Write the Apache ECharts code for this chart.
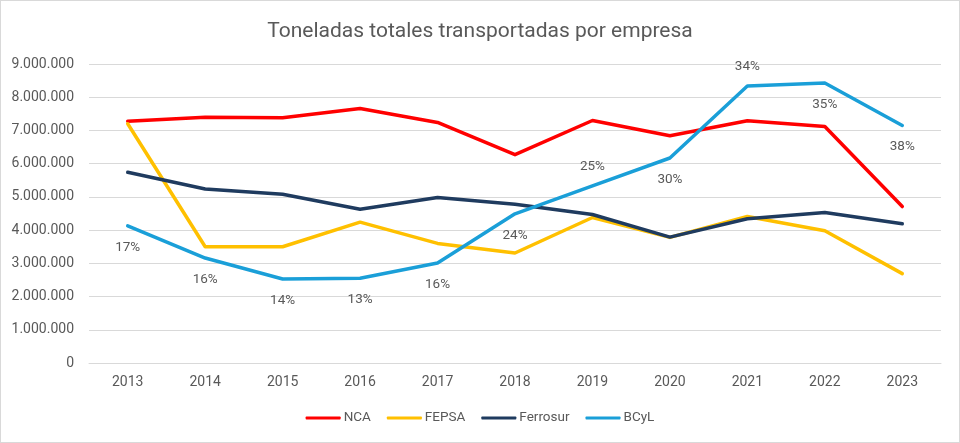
<!DOCTYPE html>
<html>
<head>
<meta charset="utf-8">
<script src="https://cdn.jsdelivr.net/npm/echarts@6/dist/echarts.min.js"></script>
<style>
html,body{margin:0;padding:0;background:#fff;}
#wrap{position:absolute;left:0;top:0;width:958px;height:441px;border:1px solid #d9d9d9;box-sizing:content-box;}
#chart{width:958px;height:441px;}
</style>
</head>
<body>
<div id="wrap"><div id="chart"></div></div>
<script>
const years = ['2013','2014','2015','2016','2017','2018','2019','2020','2021','2022','2023'];
const nca      = [7280000,7400000,7380000,7660000,7240000,6270000,7300000,6840000,7290000,7120000,4710000];
const fepsa    = [7200000,3500000,3500000,4240000,3600000,3310000,4380000,3780000,4410000,3980000,2690000];
const ferrosur = [5740000,5240000,5080000,4630000,4980000,4780000,4470000,3790000,4340000,4530000,4190000];
const bcyl     = [4130000,3160000,2530000,2550000,3010000,4490000,5330000,6170000,8340000,8430000,7150000];
const bcylShare = ['17%','16%','14%','13%','16%','24%','25%','30%','34%','35%','38%'];
const shareAbove = [false,false,false,false,false,false,true,false,true,false,false];

const gray = '#595959';
const font = 'Roboto';

function fmt(v){ return String(v).replace(/\B(?=(\d{3})+(?!\d))/g,'.'); }

const bcylData = bcyl.map((v,i)=>({
  value: v,
  label: {
    show: true,
    formatter: bcylShare[i],
    position: shareAbove[i] ? 'top' : 'bottom',
    distance: shareAbove[i] ? 12 : 14
  }
}));

function line(name, data, color, withLabels){
  return {
    name, type:'line', data,
    symbol: withLabels ? 'circle' : 'none',
    symbolSize: withLabels ? 1 : 0,
    showSymbol: !!withLabels,
    smooth:false,
    lineStyle:{color, width:3.5, cap:'round', join:'round'},
    itemStyle:{color},
    label:{color:gray, fontSize:13.5, fontFamily:font},
    emphasis:{disabled:true},
    z: 2
  };
}

const chart = echarts.init(document.getElementById('chart'), null, {renderer:'canvas'});
chart.setOption({
  animation:false,
  backgroundColor:'#fff',
  title:{
    text:'Toneladas totales transportadas por empresa',
    left:'center', top:15,
    textStyle:{color:gray, fontSize:21, fontWeight:'normal', fontFamily:font}
  },
  legend:{
    bottom:12, left:'center',
    itemWidth:35, itemHeight:3, itemGap:16,
    icon:'roundRect',
    textStyle:{color:gray, fontSize:13.5, fontFamily:font, padding:[0,0,0,-2]},
    data:['NCA','FEPSA','Ferrosur','BCyL']
  },
  grid:{left:88, right:18, top:63, bottom:79, containLabel:false},
  xAxis:{
    type:'category', data:years, boundaryGap:true,
    axisLine:{show:true, lineStyle:{color:'#d9d9d9'}},
    axisTick:{show:false},
    axisLabel:{color:gray, fontSize:14, fontFamily:font, margin:12}
  },
  yAxis:{
    type:'value', min:0, max:9000000, interval:1000000,
    axisLine:{show:false}, axisTick:{show:false},
    splitLine:{lineStyle:{color:'#d9d9d9', width:1}},
    axisLabel:{color:gray, fontSize:14, fontFamily:font, margin:15, formatter:fmt}
  },
  series:[
    line('NCA', nca, '#ff0000', false),
    line('FEPSA', fepsa, '#ffc000', false),
    line('Ferrosur', ferrosur, '#1f3b5f', false),
    line('BCyL', bcylData, '#1a9fd8', true)
  ]
});
</script>
</body>
</html>
